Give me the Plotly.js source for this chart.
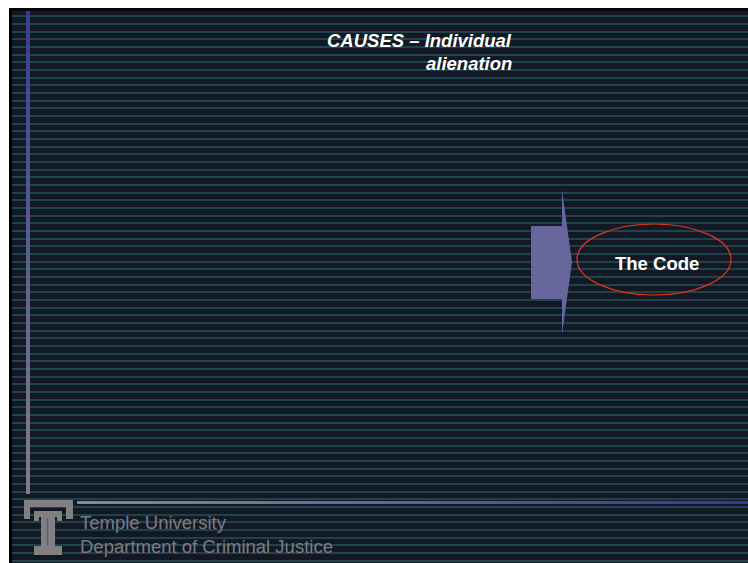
<!DOCTYPE html>
<html><head><meta charset="utf-8">
<script src="https://cdn.plot.ly/plotly-3.0.1.min.js"></script>
<style>html,body{margin:0;padding:0;background:#fff}#chart{width:748px;height:563px}</style>
</head><body><div id="chart"></div>
<script>
// Slide text content
const titleLines = ["CAUSES – Individual", "alienation"];
const calloutLabel = ["The Code"];
const footerLines = ["Temple University", "Department of Criminal Justice"];

const W = 748, H = 563;
const BG = '#131824';
const STRIPE = '#1c444d';
const LOGO = '#808080';

const traces = [
  { // left vertical rule, blue at top fading to grey
    type: 'scatter', mode: 'lines', hoverinfo: 'skip', showlegend: false,
    x: [26, 30, 30, 26, 26], y: [11, 11, 494, 494, 11],
    fill: 'toself', line: {width: 0, color: 'rgba(0,0,0,0)'},
    fillgradient: {type: 'vertical', colorscale: [[0, '#7f7f86'], [1, '#3b3b95']]}
  },
  { // bottom horizontal rule, grey at left fading to blue
    type: 'scatter', mode: 'lines', hoverinfo: 'skip', showlegend: false,
    x: [77, 748, 748, 77, 77], y: [501, 501, 504, 504, 501],
    fill: 'toself', line: {width: 0, color: 'rgba(0,0,0,0)'},
    fillgradient: {type: 'horizontal', colorscale: [[0, '#8a8a92'], [1, '#3a3592']]}
  }
];

const rect = (x0, y0, x1, y1, c) => ({type: 'rect', xref: 'x', yref: 'y', x0, y0, x1, y1,
  fillcolor: c, line: {width: 0}, layer: 'above'});

const shapes = [
  // white page edge + black frame
  rect(0, 0, 9, H, '#ffffff'),
  rect(0, 0, W, 8, '#ffffff'),
  rect(9, 8, 12, H, '#000000'),
  rect(9, 8, W, 11, '#05070c'),
  // block arrow
  {type: 'path', xref: 'x', yref: 'y', layer: 'above',
   path: 'M531,226 L562,226 L562,190 L572,262 L562,335 L562,299 L531,299 Z',
   fillcolor: '#67669c', line: {width: 0}},
  // ellipse around label
  {type: 'circle', xref: 'x', yref: 'y', layer: 'above',
   x0: 577, x1: 731, y0: 224, y1: 295, line: {color: '#e5341d', width: 1.2}},
  // Temple "T" logo
  rect(24, 500, 73, 507, LOGO),
  rect(24, 507, 30, 519, LOGO),
  rect(66, 507, 73, 519, LOGO),
  rect(34, 511, 62, 517, LOGO),
  rect(34, 517, 39, 521, LOGO),
  rect(57, 517, 62, 521, LOGO),
  rect(41, 517, 55, 546, LOGO),
  rect(34, 546, 62, 555, LOGO),
  {type: 'line', xref: 'x', yref: 'y', layer: 'above', x0: 47.5, x1: 47.5, y0: 518, y1: 546,
   line: {color: '#5b5ba0', width: 1.5}}
];

const fam = 'Liberation Sans, Arial, sans-serif';
const annotations = [
  {text: '<b><i>' + titleLines[0] + '</i></b>', x: 514, y: 40, xanchor: 'right', yanchor: 'middle',
   font: {family: fam, size: 18.5, color: '#ffffff'}},
  {text: '<b><i>' + titleLines[1] + '</i></b>', x: 514, y: 63, xanchor: 'right', yanchor: 'middle',
   font: {family: fam, size: 18.5, color: '#ffffff'}},
  {text: '<b>' + calloutLabel[0] + '</b>', x: 656.5, y: 263.5, xanchor: 'center', yanchor: 'middle',
   font: {family: fam, size: 18.5, color: '#ffffff'}},
  {text: footerLines[0], x: 78, y: 522, xanchor: 'left', yanchor: 'middle',
   font: {family: fam, size: 18.5, color: '#7c7c82'}},
  {text: footerLines[1], x: 78, y: 546, xanchor: 'left', yanchor: 'middle',
   font: {family: fam, size: 18.5, color: '#7c7c82'}}
].map(a => Object.assign({xref: 'x', yref: 'y', showarrow: false}, a));

const layout = {
  width: W, height: H,
  margin: {l: 0, r: 0, t: 0, b: 0, pad: 0},
  paper_bgcolor: BG, plot_bgcolor: BG,
  showlegend: false,
  xaxis: {range: [0, W], visible: false, fixedrange: true},
  yaxis: {range: [H, 0], showgrid: true, gridcolor: STRIPE, gridwidth: 2,
          tick0: 16.3, dtick: 7.667, showticklabels: false, ticks: '',
          zeroline: false, showline: false, fixedrange: true},
  shapes, annotations
};

Plotly.newPlot('chart', traces, layout, {staticPlot: true, displayModeBar: false});
</script></body></html>
